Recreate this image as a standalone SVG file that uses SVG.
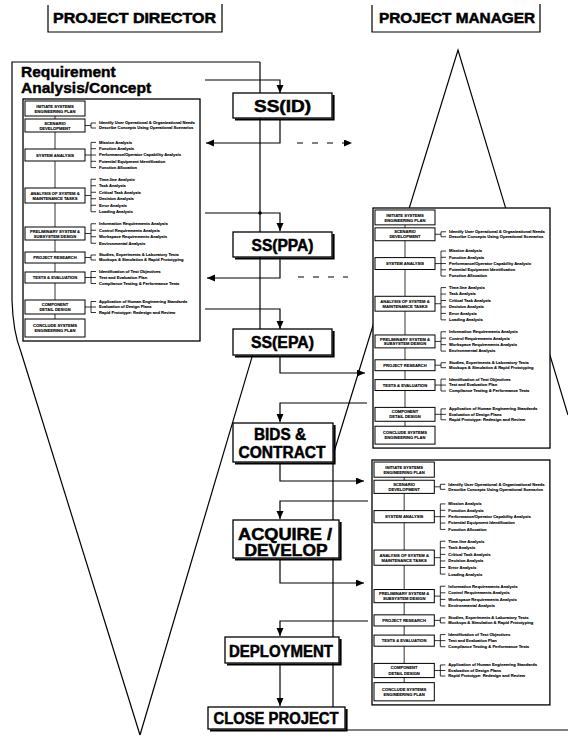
<svg xmlns="http://www.w3.org/2000/svg" xmlns:xlink="http://www.w3.org/1999/xlink" width="568" height="738" viewBox="0 0 568 738">
<style>
.ln{fill:none;stroke:#000;stroke-width:1.2}
.th{fill:none;stroke:#000;stroke-width:0.8}
.dash{fill:none;stroke:#000;stroke-width:1;stroke-dasharray:6 9}
.box{fill:#fff;stroke:#000;stroke-width:1.3}
.sh{fill:none;stroke:#000;stroke-width:2.2}
.doc{fill:#fff;stroke:#000;stroke-width:1.3}
.sb{fill:#fff;stroke:#000;stroke-width:1}
.hdr{font-family:"Liberation Sans",Arial,sans-serif;font-weight:bold;font-size:14px;stroke:#000;stroke-width:0.5}
.ttl{font-family:"Liberation Sans",Arial,sans-serif;font-weight:bold;font-size:15.5px;stroke:#000;stroke-width:0.45}
.big{font-family:"Liberation Sans",Arial,sans-serif;font-weight:bold;font-size:16px;text-anchor:middle;stroke:#000;stroke-width:0.5}
.bt{font-family:"Liberation Sans",Arial,sans-serif;font-weight:bold;font-size:4.1px;text-anchor:middle;stroke:#000;stroke-width:0.12}
.bl{font-family:"Liberation Sans",Arial,sans-serif;font-weight:bold;font-size:4.1px;stroke:#000;stroke-width:0.12}
</style>
<defs>
<marker id="ah" markerUnits="userSpaceOnUse" markerWidth="9" markerHeight="8" refX="8" refY="3.5" orient="auto">
<path d="M0,0 L8,3.5 L0,7 z" fill="#000"/>
</marker>
<g id="docTpl">
<rect class="doc" x="0" y="0" width="177" height="242"/>
<line class="th" x1="32" y1="17" x2="32" y2="220"/>
<rect class="sb" x="2" y="2" width="60" height="15"/>
<text class="bt" x="32" y="8.6">INITIATE SYSTEMS</text>
<text class="bt" x="32" y="14">ENGINEERING PLAN</text>
<rect class="sb" x="2" y="20" width="60" height="13"/>
<text class="bt" x="32" y="25.6">SCENARIO</text>
<text class="bt" x="32" y="30.6">DEVELOPMENT</text>
<path class="th" d="M62,26.5H68M68,24V29M68,24H73M68,29H73"/>
<text class="bl" x="76" y="25.4">Identify User Operational &amp; Organizational Needs</text>
<text class="bl" x="76" y="30.4">Describe Concepts Using Operational Scenarios</text>
<rect class="sb" x="2" y="50" width="60" height="12"/>
<text class="bt" x="32" y="57.5">SYSTEM ANALYSIS</text>
<path class="th" d="M62,56H68M68,43.4V68.6M68,43.4H73M68,49.7H73M68,56H73M68,62.3H73M68,68.6H73"/>
<text class="bl" x="76" y="44.8">Mission Analysis</text>
<text class="bl" x="76" y="51.1">Function Analysis</text>
<text class="bl" x="76" y="57.4">Performance/Operator Capability Analysis</text>
<text class="bl" x="76" y="63.7">Potential Equipment Identification</text>
<text class="bl" x="76" y="70">Function Allocation</text>
<rect class="sb" x="2" y="89" width="60" height="15"/>
<text class="bt" x="32" y="95.6">ANALYSIS OF SYSTEM &amp;</text>
<text class="bt" x="32" y="100.9">MAINTENANCE TASKS</text>
<path class="th" d="M62,96.5H68M68,80.25V112.75M68,80.25H73M68,86.75H73M68,93.25H73M68,99.75H73M68,106.25H73M68,112.75H73"/>
<text class="bl" x="76" y="81.65">Time-line Analysis</text>
<text class="bl" x="76" y="88.15">Task Analysis</text>
<text class="bl" x="76" y="94.65">Critical Task Analysis</text>
<text class="bl" x="76" y="101.15">Decision Analysis</text>
<text class="bl" x="76" y="107.65">Error Analysis</text>
<text class="bl" x="76" y="114.15">Loading Analysis</text>
<rect class="sb" x="2" y="128" width="60" height="13"/>
<text class="bt" x="32" y="133.6">PRELIMINARY SYSTEM &amp;</text>
<text class="bt" x="32" y="138.6">SUBSYSTEM DESIGN</text>
<path class="th" d="M62,134.5H68M68,124.75V144.25M68,124.75H73M68,131.25H73M68,137.75H73M68,144.25H73"/>
<text class="bl" x="76" y="126.15">Information Requirements Analysis</text>
<text class="bl" x="76" y="132.65">Control Requirements Analysis</text>
<text class="bl" x="76" y="139.15">Workspace Requirements Analysis</text>
<text class="bl" x="76" y="145.65">Environmental Analysis</text>
<rect class="sb" x="2" y="153" width="60" height="11"/>
<text class="bt" x="32" y="160">PROJECT RESEARCH</text>
<path class="th" d="M62,158.5H68M68,156V161M68,156H73M68,161H73"/>
<text class="bl" x="76" y="157.4">Studies, Experiments &amp; Laboratory Tests</text>
<text class="bl" x="76" y="162.4">Mockups &amp; Simulation &amp; Rapid Prototyping</text>
<rect class="sb" x="2" y="173" width="60" height="11"/>
<text class="bt" x="32" y="180">TESTS &amp; EVALUATION</text>
<path class="th" d="M62,178.5H68M68,172.5V184.5M68,172.5H73M68,178.5H73M68,184.5H73"/>
<text class="bl" x="76" y="173.9">Identification of Test Objectives</text>
<text class="bl" x="76" y="179.9">Test and Evaluation Plan</text>
<text class="bl" x="76" y="185.9">Compliance Testing &amp; Performance Tests</text>
<rect class="sb" x="2" y="201" width="60" height="14"/>
<text class="bt" x="32" y="207">COMPONENT</text>
<text class="bt" x="32" y="212.2">DETAIL DESIGN</text>
<path class="th" d="M62,208H68M68,202.5V213.5M68,202.5H73M68,208H73M68,213.5H73"/>
<text class="bl" x="76" y="203.9">Application of Human Engineering Standards</text>
<text class="bl" x="76" y="209.4">Evaluation of Design Plans</text>
<text class="bl" x="76" y="214.9">Rapid Prototype: Redesign and Review</text>
<rect class="sb" x="2" y="220" width="60" height="18"/>
<text class="bt" x="32" y="227.8">CONCLUDE SYSTEMS</text>
<text class="bt" x="32" y="233">ENGINEERING PLAN</text>
</g>
</defs>
<rect width="568" height="738" fill="#fff"/>

<g id="headers">
<g id="hdr-director">
<path class="ln" d="M48,5V32H222V4"/>
<text class="hdr" x="53" y="23" textLength="163" lengthAdjust="spacingAndGlyphs">PROJECT DIRECTOR</text>
</g>
<g id="hdr-manager">
<path class="ln" d="M372,5V32H540V4"/>
<text class="hdr" x="379" y="23" textLength="156" lengthAdjust="spacingAndGlyphs">PROJECT MANAGER</text>
</g>
</g>

<g id="frames">
<path class="ln" d="M260,62H12V300Q13,332 21,352L140,735"/>
<path class="ln" d="M260,330L140,735"/>
<path class="ln" d="M334,452L458,50L568,415"/>
<text class="ttl" x="21" y="77">Requirement</text>
<text class="ttl" x="21" y="93">Analysis/Concept</text>
</g>

<g id="connectors">
<path class="ln" d="M260,62V330"/>
<path class="ln" d="M205,80H280V93" marker-end="url(#ah)"/>
<path class="ln" d="M280,119V143H206" marker-end="url(#ah)"/>
<path class="dash" d="M297,143H352" marker-end="url(#ah)"/>
<path class="ln" d="M205,213H280V231" marker-end="url(#ah)"/>
<circle cx="260" cy="213" r="1.8" fill="#000"/>
<path class="ln" d="M280,257V278H207" marker-end="url(#ah)"/>
<path class="dash" d="M298,277H348"/>
<path class="ln" d="M205,309H280V329" marker-end="url(#ah)"/>
<path class="ln" d="M280,356V373H365" marker-end="url(#ah)"/>
<path class="ln" d="M367,403H280V422" marker-end="url(#ah)"/>
<path class="ln" d="M280,463V481H364" marker-end="url(#ah)"/>
<path class="ln" d="M368,501H280V519" marker-end="url(#ah)"/>
<path class="ln" d="M280,559V583H364" marker-end="url(#ah)"/>
<path class="ln" d="M368,621H280V636" marker-end="url(#ah)"/>
<path class="ln" d="M280,664V706" marker-end="url(#ah)"/>
<path class="ln" d="M333,463V707"/>
<path class="ln" d="M345,730H568"/>
</g>

<g id="doc-director"><use xlink:href="#docTpl" href="#docTpl" transform="translate(23,99)"/></g>
<g id="doc-pm1"><use xlink:href="#docTpl" href="#docTpl" transform="translate(373,208) scale(1,0.992)"/></g>
<g id="doc-pm2"><use xlink:href="#docTpl" href="#docTpl" transform="translate(372,460) scale(1.005,1.012)"/></g>

<g id="ss-id">
<path class="sh" d="M235,119.5H333.5V95"/>
<rect class="box" x="233" y="93" width="99" height="25"/>
<text class="big" x="282.5" y="111.5" textLength="57" lengthAdjust="spacingAndGlyphs">SS(ID)</text>
</g>
<g id="ss-ppa">
<path class="sh" d="M235,258.5H333.5V234"/>
<rect class="box" x="233" y="232" width="99" height="25"/>
<text class="big" x="282.5" y="250.5" textLength="62" lengthAdjust="spacingAndGlyphs">SS(PPA)</text>
</g>
<g id="ss-epa">
<path class="sh" d="M235,356.5H333.5V331"/>
<rect class="box" x="233" y="329" width="99" height="26"/>
<text class="big" x="282.5" y="348" textLength="63" lengthAdjust="spacingAndGlyphs">SS(EPA)</text>
</g>
<g id="bids">
<path class="sh" d="M235,463.5H334.5V425"/>
<rect class="box" x="233" y="423" width="100" height="39"/>
<text class="big" x="280" y="440" textLength="52" lengthAdjust="spacingAndGlyphs">BIDS &amp;</text>
<text class="big" x="282" y="457.5" textLength="87" lengthAdjust="spacingAndGlyphs">CONTRACT</text>
</g>
<g id="acquire">
<path class="sh" d="M235,559.5H340.5V522"/>
<rect class="box" x="233" y="520" width="106" height="38"/>
<text class="big" x="285" y="540" textLength="94" lengthAdjust="spacingAndGlyphs">ACQUIRE /</text>
<text class="big" x="286" y="555.5" textLength="83" lengthAdjust="spacingAndGlyphs">DEVELOP</text>
</g>
<g id="deployment">
<path class="sh" d="M227,664.5H340.5V639"/>
<rect class="box" x="225" y="637" width="114" height="26"/>
<text class="big" x="281" y="656.5" textLength="104" lengthAdjust="spacingAndGlyphs">DEPLOYMENT</text>
</g>
<g id="close">
<path class="sh" d="M210,730.5H346.5V709"/>
<rect class="box" x="208" y="707" width="137" height="22"/>
<text class="big" x="276" y="723.5" textLength="125" lengthAdjust="spacingAndGlyphs">CLOSE PROJECT</text>
</g>
</svg>
